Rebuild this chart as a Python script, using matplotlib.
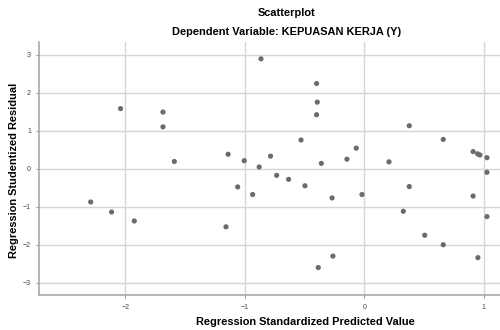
import numpy as np
import matplotlib
matplotlib.use("Agg")
import matplotlib.pyplot as plt

plt.rcParams['font.family'] = ['Liberation Sans', 'DejaVu Sans']

# values
pred = [-2.29, -2.115, -2.04, -1.925, -1.685, -1.685, -1.59, -1.158, -1.14, -1.06,
        -1.005, -0.935, -0.88, -0.865, -0.785, -0.734, -0.634, -0.53, -0.497, -0.40,
        -0.394, -0.40, -0.36, -0.386, -0.27, -0.263, -0.146, -0.068, -0.02, 0.206,
        0.326, 0.376, 0.376, 0.505, 0.66, 0.66, 0.91, 0.948, 0.967, 0.91,
        0.95, 1.026, 1.026, 1.026]
resid = [-0.876, -1.14, 1.58, -1.376, 1.49, 1.10, 0.19, -1.53, 0.38, -0.48,
         0.21, -0.68, 0.045, 2.89, 0.33, -0.175, -0.28, 0.755, -0.45, 2.24,
         1.75, 1.42, 0.14, -2.6, -0.77, -2.30, 0.25, 0.54, -0.68, 0.18,
         -1.12, 1.13, -0.47, -1.75, 0.77, -2.0, 0.45, 0.39, 0.36, -0.72,
         -2.34, 0.29, -0.095, -1.26]
xticks = [-2, -1, 0, 1]
yticks = [-3, -2, -1, 0, 1, 2, 3]

fig = plt.figure(figsize=(5, 3.3), dpi=100)
ax = fig.add_axes([0.0786, 0.1052, 0.9214, 0.7684])
ax.set_xlim(-2.72, 1.135)
ax.set_ylim(-3.33, 3.34)

ax.set_axisbelow(True)
ax.grid(True, color='#d6d6d6', linewidth=1.0)
ax.scatter(pred, resid, s=14, color='#6b6b6b', edgecolors='none', zorder=3)

ax.set_xticks(xticks)
ax.set_yticks(yticks)
ax.tick_params(labelsize=5, colors='#9a9a9a', labelcolor='#444444', length=2, width=0.8, pad=4)
for side in ['top', 'right']:
    ax.spines[side].set_visible(False)
for side in ['left', 'bottom']:
    ax.spines[side].set_color('#a8a8a8')
    ax.spines[side].set_linewidth(1.2)

# axis titles placed like the reference
fig.text(0.61, 1 - 322 / 330, 'Regression Standardized Predicted Value', ha='center', va='center',
         fontsize=7.9, fontweight='bold')
fig.text(14 / 500, 1 - 170 / 330, 'Regression Studentized Residual', ha='center', va='center',
         rotation=90, fontsize=7.9, fontweight='bold')

fig.text(0.574, 0.96, 'Scatterplot', ha='center', va='center', fontsize=7.9, fontweight='bold')
fig.text(0.574, 0.902, 'Dependent Variable: KEPUASAN KERJA (Y)', ha='center', va='center',
         fontsize=7.9, fontweight='bold')

fig.savefig('out.png', dpi=100)
